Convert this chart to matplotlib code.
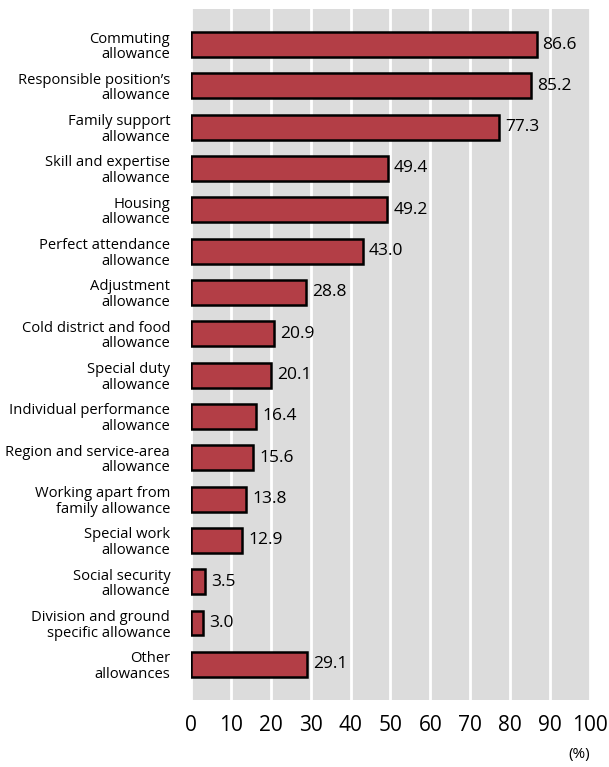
import matplotlib.pyplot as plt

plt.rcParams["font.family"] = ["Open Sans", "DejaVu Sans"]

categories = [
    "Commuting\nallowance",
    "Responsible position\u2019s\nallowance",
    "Family support\nallowance",
    "Skill and expertise\nallowance",
    "Housing\nallowance",
    "Perfect attendance\nallowance",
    "Adjustment\nallowance",
    "Cold district and food\nallowance",
    "Special duty\nallowance",
    "Individual performance\nallowance",
    "Region and service-area\nallowance",
    "Working apart from\nfamily allowance",
    "Special work\nallowance",
    "Social security\nallowance",
    "Division and ground\nspecific allowance",
    "Other\nallowances",
]
values = [86.6, 85.2, 77.3, 49.4, 49.2, 43.0, 28.8, 20.9, 20.1, 16.4, 15.6, 13.8, 12.9, 3.5, 3.0, 29.1]
x_ticks = [0, 10, 20, 30, 40, 50, 60, 70, 80, 90, 100]

fig = plt.figure(figsize=(6.09, 7.67), dpi=100)
ax = fig.add_axes([0.3136, 0.0874, 0.6552, 0.9009])
ax.set_facecolor("#dcdcdc")

positions = list(range(len(categories)))
ax.barh(positions, values, height=0.6, color="#b33e46", edgecolor="black", linewidth=1.8, zorder=3)

for y, v in zip(positions, values):
    ax.text(v + 1.5, y, f"{v:.1f}", va="center", ha="left", fontsize=12.5, zorder=4)

ax.set_xlim(0, 100)
ax.set_ylim(len(categories) - 0.14, -0.86)
ax.set_xticks(x_ticks)
ax.set_xticklabels([str(t) for t in x_ticks], fontsize=15)
ax.set_yticks(positions)
ax.set_yticklabels(categories, fontsize=10.6, linespacing=1.05)
ax.tick_params(axis="both", length=0)
ax.tick_params(axis="y", pad=15)
ax.tick_params(axis="x", pad=11)
ax.xaxis.grid(True, color="white", linewidth=2, zorder=1)
ax.set_axisbelow(True)
for spine in ax.spines.values():
    spine.set_visible(False)

fig.text(0.969, 0.006, "(%)", ha="right", va="bottom", fontsize=11)

fig.savefig("out.png", dpi=100)
